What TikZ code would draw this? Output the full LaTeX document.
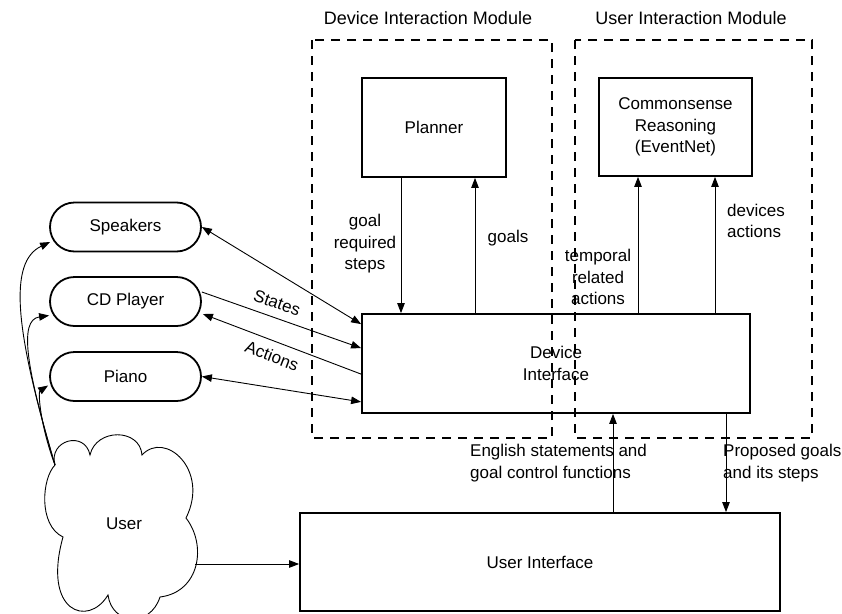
\documentclass[tikz,border=0pt]{standalone}
\usepackage{fontspec}
\setmainfont{Liberation Sans}
\usetikzlibrary{arrows.meta,calc}
\begin{document}
\begin{tikzpicture}[x=1pt,y=-1pt,
  txt/.style={font=\fontsize{17}{21.5}\selectfont, inner sep=0pt},
  box/.style={draw, line width=1.8pt, rectangle, txt, align=center},
  pill/.style={draw, line width=1.8pt, rounded corners=24.5pt, txt, minimum width=151pt, minimum height=49pt},
  module/.style={draw, line width=1.8pt, dash pattern=on 9pt off 7pt},
  arr/.style={line width=0.9pt, -{Triangle[length=10pt,width=7.5pt]}},
  darr/.style={line width=0.9pt, {Triangle[length=10pt,width=7.5pt]}-{Triangle[length=10pt,width=7.5pt]}},
  cloudline/.style={line width=0.9pt}
]
\useasboundingbox (0,0) rectangle (842,613);

% titles
\node[txt, font=\fontsize{18}{22}\selectfont] (t1) at (428,18) {Device Interaction Module};
\node[txt, font=\fontsize{18}{22}\selectfont] (t2) at (691,18) {User Interaction Module};

% main boxes
\node[box, minimum width=144pt, minimum height=99pt] (planner) at (434,127.5) {Planner};
\node[box, minimum width=153pt, minimum height=98pt] (cs) at (675.5,127) {Commonsense\\Reasoning\\(EventNet)};
\node[box, minimum width=388pt, minimum height=99pt] (di) at (556,363.5) {Device\\Interface};
\node[box, minimum width=480pt, minimum height=98pt] (ui) at (540,562) {User Interface};

% devices
\node[pill] (sp) at (125.5,227) {Speakers};
\node[pill] (cd) at (125.5,301.5) {CD Player};
\node[pill] (pi) at (125.5,376.5) {Piano};

% cloud
\draw[cloudline] (55,465) .. controls (48,440) and (85,430) .. (90,455)
  .. controls (96,428) and (140,428) .. (142,455)
  .. controls (165,430) and (210,470) .. (186,518)
  .. controls (207,545) and (200,592) .. (160,597)
  .. controls (150,628) and (112,625) .. (108,595)
  .. controls (88,628) and (42,612) .. (63,537)
  .. controls (38,525) and (42,478) .. (55,465) -- cycle;
\node[txt] (user) at (124,524) {User};
\coordinate (ua) at (55,465);
\coordinate (ur) at (195,564);

% user to devices
\draw[arr] (ua) .. controls (15,330) and (8,262) .. ([xshift=1pt,yshift=-15pt]sp.west);
\draw[arr] (ua) .. controls (27,370) and (18,320) .. ([xshift=0pt,yshift=-14pt]cd.west);
\draw[arr] (ua) .. controls (40,425) and (38,392) .. ([xshift=-1pt,yshift=-9pt]pi.west);

% user to UI
\draw[arr] (ur) -- (ui.west |- ur);

% devices to device interface
\draw[darr] (sp.east) -- ([yshift=-11pt]di.north west);
\draw[arr] ([yshift=9.5pt]cd.east) -- ([yshift=-35pt]di.north west);
\draw[arr] ([yshift=-61pt]di.north west) -- ([xshift=1pt,yshift=-12.5pt]cd.east);
\draw[darr] (pi.east) -- ([yshift=12pt]di.south west);
\node[txt, rotate=-19.4] (lstates) at (277,303) {States};
\node[txt, rotate=-21] (lactions) at (272,356) {Actions};

% planner <-> di
\draw[arr] ([xshift=-33pt]planner.south) -- ([xshift=-33pt]planner.south |- di.north);
\draw[arr] ([xshift=41pt]planner.south |- di.north) -- ([xshift=41pt]planner.south);
\node[txt, align=center] (lgoal) at (365,244) {goal\\required\\steps};
\node[txt] (lgoals) at (508,238) {goals};

% di -> commonsense
\draw[arr] ([xshift=-37.5pt]cs.south |- di.north) -- ([xshift=-37.5pt]cs.south);
\draw[arr] ([xshift=39.5pt]cs.south |- di.north) -- ([xshift=39.5pt]cs.south);
\node[txt, align=center] (ltemp) at (598,277) {temporal\\related\\actions};
\node[txt, align=left, anchor=west] (ldev) at (727,221) {devices\\actions};

% ui <-> di
\draw[arr] ([xshift=73pt]ui.north) -- ([xshift=73pt]ui.north |- di.south);
\draw[arr] ([xshift=186pt]ui.north |- di.south) -- ([xshift=186pt]ui.north);
\node[txt, align=left, anchor=west] (leng) at (470,463) {English statements and\\goal control functions};
\node[txt, align=left, anchor=west] (lprop) at (723,463) {Proposed goals\\and its steps};

% module boxes
\draw[module] (312,40) rectangle (552,438);
\draw[module] (575,40) rectangle (812,438);
\end{tikzpicture}
\end{document}
